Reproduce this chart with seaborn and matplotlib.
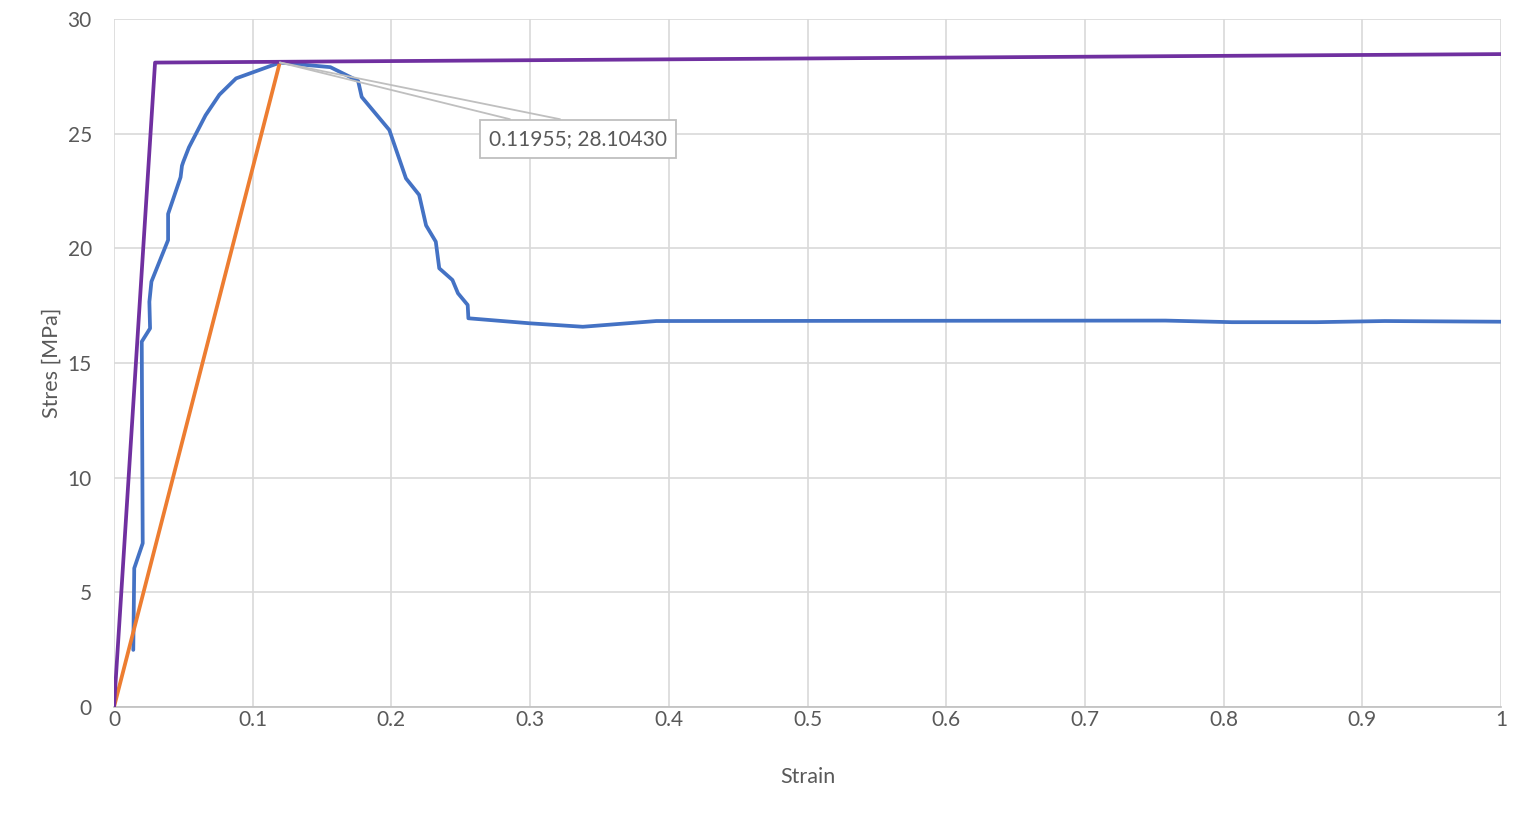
import matplotlib
matplotlib.use("Agg")
import matplotlib.pyplot as plt
import seaborn as sns
import numpy as np

# Measured stress-strain curve (blue)
strain_meas = [0.0139, 0.0146, 0.0146, 0.0207, 0.0200, 0.0200, 0.0260, 0.0255, 0.0270,
               0.0390, 0.0390, 0.0480, 0.0490, 0.0500, 0.0540, 0.0660, 0.0760, 0.0880,
               0.1196, 0.1560, 0.1760, 0.1786, 0.1985, 0.2105, 0.2200, 0.2250, 0.2320,
               0.2345, 0.2440, 0.2480, 0.2550, 0.2555, 0.3000, 0.3380, 0.3910, 0.7580,
               0.8060, 0.8670, 0.9160, 1.0000]
stress_meas = [2.49, 6.05, 6.05, 7.14, 15.93, 15.93, 16.51, 17.67, 18.55,
               20.36, 21.50, 23.10, 23.60, 23.78, 24.40, 25.80, 26.70, 27.41,
               28.10, 27.90, 27.30, 26.60, 25.16, 23.05, 22.33, 21.00, 20.29,
               19.13, 18.62, 18.04, 17.53, 16.95, 16.73, 16.58, 16.83, 16.85,
               16.78, 16.78, 16.83, 16.80]

# Secant line (orange)
strain_secant = [0.0, 0.11955]
stress_secant = [0.0, 28.10430]

# Bilinear idealisation (purple)
strain_bilin = [0.0, 0.0296, 1.0]
stress_bilin = [0.0, 28.10, 28.47]

peak_x, peak_y = 0.11955, 28.10430
x_ticks = [0, 0.1, 0.2, 0.3, 0.4, 0.5, 0.6, 0.7, 0.8, 0.9, 1]
x_tick_labels = ["0", "0.1", "0.2", "0.3", "0.4", "0.5", "0.6", "0.7", "0.8", "0.9", "1"]
y_ticks = [0, 5, 10, 15, 20, 25, 30]

sns.set_theme(style="white")
plt.rcParams['font.family'] = ['Lato', 'DejaVu Sans']

fig = plt.figure(figsize=(15.24, 8.15), dpi=100)
ax = fig.add_axes([114/1524, 1-707/815, (1501-114)/1524, (707-19)/815])

blue = "#4472C4"
orange = "#ED7D31"
purple = "#7030A0"

sns.lineplot(x=strain_meas, y=stress_meas, sort=False, estimator=None, ax=ax,
             color=blue, linewidth=2.7, zorder=3)
sns.lineplot(x=strain_secant, y=stress_secant, sort=False, estimator=None, ax=ax,
             color=orange, linewidth=2.7, zorder=4)
sns.lineplot(x=strain_bilin, y=stress_bilin, sort=False, estimator=None, ax=ax,
             color=purple, linewidth=2.7, zorder=5)

ax.set_xlim(0, 1)
ax.set_ylim(0, 30)
ax.set_xticks(x_ticks)
ax.set_xticklabels(x_tick_labels)
ax.set_yticks(y_ticks)
ax.grid(True, color="#d9d9d9", linewidth=1.2)
ax.set_axisbelow(True)
for s in ["top", "right", "left"]:
    ax.spines[s].set_visible(False)
ax.spines["bottom"].set_color("#bfbfbf")
ax.spines["bottom"].set_linewidth(1.2)
ax.tick_params(axis="x", length=0, labelsize=15, labelcolor="#595959", pad=2)
ax.tick_params(axis="y", length=0, labelsize=15, labelcolor="#595959", pad=16)

ax.set_xlabel("Strain", fontsize=15.5, color="#595959", labelpad=27)
ax.set_ylabel("Stres [MPa]", fontsize=15.5, color="#595959", labelpad=4)

# Data callout
for tx in (0.2855, 0.3216):
    ax.annotate("", xy=(peak_x, peak_y), xytext=(tx, 25.63),
                arrowprops=dict(arrowstyle="-", color="#bfbfbf", lw=1.3,
                                shrinkA=0, shrinkB=0), zorder=6)
ax.text(0.3345, 24.77, f"{peak_x:.5f}; {peak_y:.5f}", fontsize=15, color="#595959",
        ha="center", va="center", zorder=7,
        bbox=dict(boxstyle="square,pad=0.45", facecolor="white", edgecolor="#bfbfbf", linewidth=1.3))

fig.savefig("out.png", dpi=100)
